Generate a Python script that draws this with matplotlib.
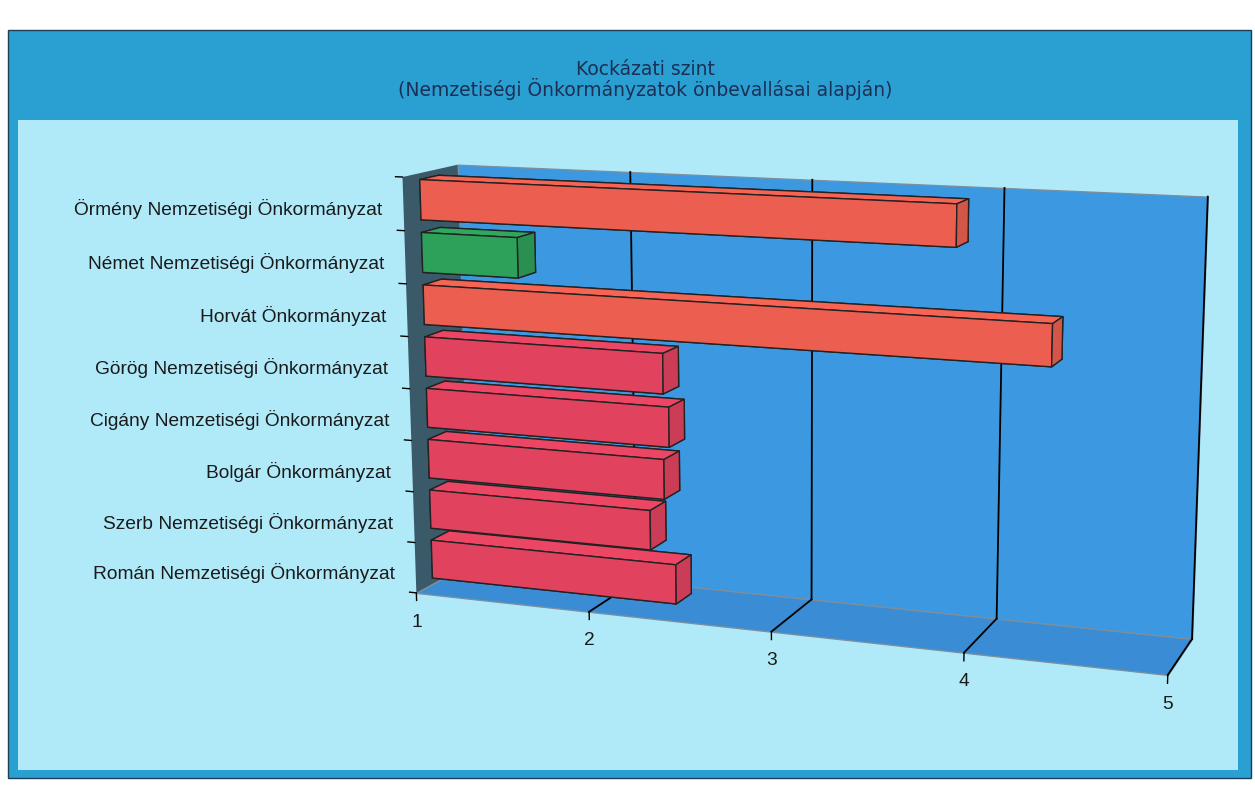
import numpy as np
import matplotlib.pyplot as plt
from matplotlib.patches import Rectangle
from mpl_toolkits.mplot3d import proj3d
from mpl_toolkits.mplot3d.art3d import Poly3DCollection

plt.rcParams['font.family'] = ['Liberation Sans', 'DejaVu Sans']

categories = ['Örmény Nemzetiségi Önkormányzat', 'Német Nemzetiségi Önkormányzat',
              'Horvát Önkormányzat', 'Görög Nemzetiségi Önkormányzat',
              'Cigány Nemzetiségi Önkormányzat', 'Bolgár Önkormányzat',
              'Szerb Nemzetiségi Önkormányzat', 'Román Nemzetiségi Önkormányzat']
values = [3.88, 1.55, 4.36, 2.35, 2.38, 2.35, 2.27, 2.41]
bar_colors = ['#ec5f50', '#2da05a', '#ec5f50', '#e1435f',
              '#e1435f', '#e1435f', '#e1435f', '#e1435f']
x_ticks = [1, 2, 3, 4, 5]
title = 'Kockázati szint\n(Nemzetiségi Önkormányzatok önbevallásai alapján)'

fig = plt.figure(figsize=(12.55, 7.87), dpi=100)
fig.patch.set_facecolor('white')

# blue frame and light inner panel
fig.patches.append(Rectangle((0.0064, 0.0114), 0.9904, 0.9505, transform=fig.transFigure,
                             facecolor='#2a9fd2', edgecolor='#1d3f55', lw=1, zorder=-2))
fig.patches.append(Rectangle((0.0143, 0.0216), 0.9721, 0.8259, transform=fig.transFigure,
                             facecolor='#b0eaf9', edgecolor='none', zorder=-1))
fig.text(0.514, 0.898, title, ha='center', va='center', color='#1c2f55',
         fontsize=13.5, linespacing=0.96, family='DejaVu Sans')

ax = fig.add_axes([0.145, -0.182, 0.95, 1.3], projection='3d', computed_zorder=False)
ax.set_proj_type('persp', focal_length=0.44)
ax.view_init(elev=12, azim=-70)
ax.set_box_aspect((4, 0.6, 2.2), zoom=0.87)
ax.set_axis_off()
ax.patch.set_alpha(0)

n = len(categories)
depth = 1.0
ax.set_xlim(x_ticks[0], x_ticks[-1])
ax.set_ylim(0, depth)
ax.set_zlim(0, n)
x0, x1 = x_ticks[0], x_ticks[-1]
M = ax.get_proj()


def to2d(x, y, z):
    px, py, _ = proj3d.proj_transform(np.array([x]), np.array([y]), np.array([z]), M)
    return float(px[0]), float(py[0])


# walls
back = [[(x0, depth, 0), (x1, depth, 0), (x1, depth, n), (x0, depth, n)]]
floor = [[(x0, 0, 0), (x1, 0, 0), (x1, depth, 0), (x0, depth, 0)]]
left = [[(x0, 0, 0), (x0, depth, 0), (x0, depth, n), (x0, 0, n)]]
ax.add_collection3d(Poly3DCollection(back, facecolor='#3c98e0', edgecolor='#7a8f9f', lw=1, zorder=1))
ax.add_collection3d(Poly3DCollection(floor, facecolor='#3a8cd4', edgecolor='#7a8f9f', lw=1, zorder=1))
ax.add_collection3d(Poly3DCollection(left, facecolor='#3a5a6a', edgecolor='none', zorder=1))

# gridlines on back wall and floor, ticks and tick labels
for t in x_ticks[1:]:
    ax.plot([t, t], [depth, depth], [0, n], color='black', lw=1.3, zorder=2)
    ax.plot([t, t], [0, depth], [0, 0], color='black', lw=1.3, zorder=2)
for t in x_ticks:
    ax.plot([t, t], [0, 0], [0, -0.15], color='black', lw=1, zorder=2)
    ax.annotate(str(t), xy=to2d(t, 0, 0), xycoords='data', xytext=(0, -21),
                textcoords='offset points', ha='center', va='center',
                fontsize=13.8, color='#1a1a1a')
for k in range(n + 1):
    ax.plot([x0, x0 - 0.04], [0, 0], [k, k], color='black', lw=1, zorder=2)

# bars
h = 0.76
for i, (cat, v, c) in enumerate(zip(categories, values, bar_colors)):
    zc = n - i - 0.5
    rgb = np.array(plt.matplotlib.colors.to_rgb(c))
    faces = [rgb * 0.8, np.clip(rgb * 1.05, 0, 1), rgb, rgb * 0.8, rgb * 0.85, rgb * 0.9]
    ax.bar3d(x0, 0.3, zc - h / 2, v - x0, 0.34, h, color=faces, shade=False,
             edgecolor='#222222', linewidth=1, zorder=20 - i)
    ax.annotate(cat, xy=to2d(x0, 0, zc), xycoords='data', xytext=(-15, -4),
                textcoords='offset points', ha='right', va='center',
                fontsize=13.8, color='#1a1a1a')

fig.savefig('out.png', dpi=100)
